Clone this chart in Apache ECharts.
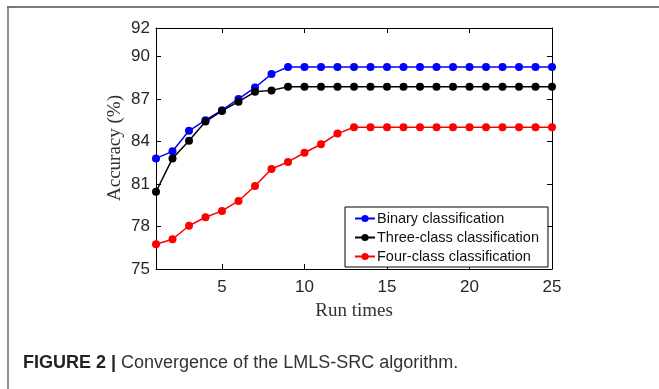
<!DOCTYPE html>
<html>
<head>
<meta charset="utf-8">
<script src="https://cdn.jsdelivr.net/npm/echarts@6/dist/echarts.min.js"></script>
<style>
  html, body { margin: 0; padding: 0; background: #fff; }
  #chart { width: 659px; height: 389px; }
</style>
</head>
<body>
<div id="chart"></div>
<script>
// run index 1..25
const runTimes = Array.from({ length: 25 }, (_, i) => i + 1)
const binary = [82.8, 83.3, 84.75, 85.5, 86.2, 87.0, 87.8, 88.75, 89.25, 89.25, 89.25, 89.25, 89.25, 89.25, 89.25, 89.25, 89.25, 89.25, 89.25, 89.25, 89.25, 89.25, 89.25, 89.25, 89.25]
const threeClass = [80.45, 82.8, 84.05, 85.4, 86.15, 86.8, 87.5, 87.6, 87.85, 87.85, 87.85, 87.85, 87.85, 87.85, 87.85, 87.85, 87.85, 87.85, 87.85, 87.85, 87.85, 87.85, 87.85, 87.85, 87.85]
const fourClass = [76.75, 77.1, 78.05, 78.65, 79.1, 79.8, 80.85, 82.05, 82.55, 83.2, 83.8, 84.55, 85.0, 85.0, 85.0, 85.0, 85.0, 85.0, 85.0, 85.0, 85.0, 85.0, 85.0, 85.0, 85.0]
const xTicks = [5, 10, 15, 20, 25]
const yTicks = [75, 78, 81, 84, 87, 90, 92]

const chart = echarts.init(document.getElementById('chart'), null, { renderer: 'canvas' })

const pairs = arr => arr.map((v, i) => [runTimes[i], v])

const lineSeries = (name, color, data) => ({
  name: name,
  type: 'line',
  data: pairs(data),
  symbol: 'circle',
  symbolSize: 8,
  showAllSymbol: true,
  lineStyle: { color: color, width: 1.5 },
  itemStyle: { color: color },
  emphasis: { disabled: true },
  animation: false
})

const tickFont = { fontFamily: 'Liberation Sans, Arial, sans-serif', fontSize: 17, color: '#262626' }
const sans = 'Liberation Sans, Arial, sans-serif'
const serif = 'Liberation Serif, Times New Roman, serif'

const option = {
  animation: false,
  grid: { left: 156, right: 107, top: 28, bottom: 120 },
  xAxis: [
    {
      type: 'value', min: 1, max: 25,
      name: 'Run times', nameLocation: 'middle', nameGap: 33,
      nameTextStyle: { fontFamily: serif, fontSize: 19, color: '#333' },
      axisLine: { lineStyle: { color: '#000', width: 1 } },
      axisTick: { inside: true, length: 5, customValues: xTicks, lineStyle: { color: '#000' } },
      axisLabel: Object.assign({ margin: 10, customValues: xTicks }, tickFont),
      splitLine: { show: false }
    },
    {
      type: 'value', min: 1, max: 25, position: 'top',
      axisLine: { show: true, lineStyle: { color: '#000', width: 1 } },
      axisTick: { inside: true, length: 5, customValues: xTicks, lineStyle: { color: '#000' } },
      axisLabel: { show: false },
      splitLine: { show: false }
    }
  ],
  yAxis: [
    {
      type: 'value', min: 75, max: 92,
      axisLine: { show: true, lineStyle: { color: '#000', width: 1 } },
      axisTick: { show: true, inside: true, length: 5, customValues: yTicks, lineStyle: { color: '#000' } },
      axisLabel: Object.assign({ margin: 6, customValues: yTicks }, tickFont),
      splitLine: { show: false }
    },
    {
      type: 'value', min: 75, max: 92, position: 'right',
      axisLine: { show: true, lineStyle: { color: '#000', width: 1 } },
      axisTick: { show: true, inside: true, length: 5, customValues: yTicks, lineStyle: { color: '#000' } },
      axisLabel: { show: false },
      splitLine: { show: false }
    }
  ],
  legend: {
    orient: 'vertical',
    left: 345, top: 207,
    padding: [4, 9, 3, 9],
    itemGap: 4,
    itemWidth: 20, itemHeight: 9,
    backgroundColor: '#fff',
    borderColor: '#000', borderWidth: 1, borderRadius: 0,
    lineStyle: { width: 2 },
    textStyle: { fontFamily: sans, fontSize: 14.5, color: '#111', padding: [0, 0, 0, -3] },
    data: ['Binary classification', 'Three-class classification', 'Four-class classification']
  },
  series: [
    lineSeries('Binary classification', '#0000ff', binary),
    lineSeries('Three-class classification', '#000000', threeClass),
    lineSeries('Four-class classification', '#ff0000', fourClass)
  ],
  graphic: [
    { type: 'line', shape: { x1: 7, y1: 7, x2: 659, y2: 7 }, style: { stroke: '#7a7a7a', lineWidth: 2 } },
    { type: 'line', shape: { x1: 8, y1: 6, x2: 8, y2: 389 }, style: { stroke: '#6a6a6a', lineWidth: 1.5 } },
    {
      // y axis title
      type: 'text', x: 115, y: 148, rotation: Math.PI / 2,
      style: {
        text: 'Accuracy (%)', align: 'center', verticalAlign: 'middle',
        fontSize: 19, fontFamily: serif, fill: '#333'
      }
    },
    {
      type: 'text', left: 23, top: 354,
      style: {
        text: '{b|FIGURE 2 |} {n|Convergence of the LMLS-SRC algorithm.}',
        fontSize: 18, fontFamily: sans, fontWeight: 'normal',
        fill: '#222',
        rich: {
          b: { fontWeight: 'bold', fontSize: 18, fontFamily: sans, fill: '#222' },
          n: { fontWeight: 'normal', fontSize: 18, fontFamily: sans, fill: '#333' }
        }
      }
    }
  ]
}

chart.setOption(option)
</script>
</body>
</html>
